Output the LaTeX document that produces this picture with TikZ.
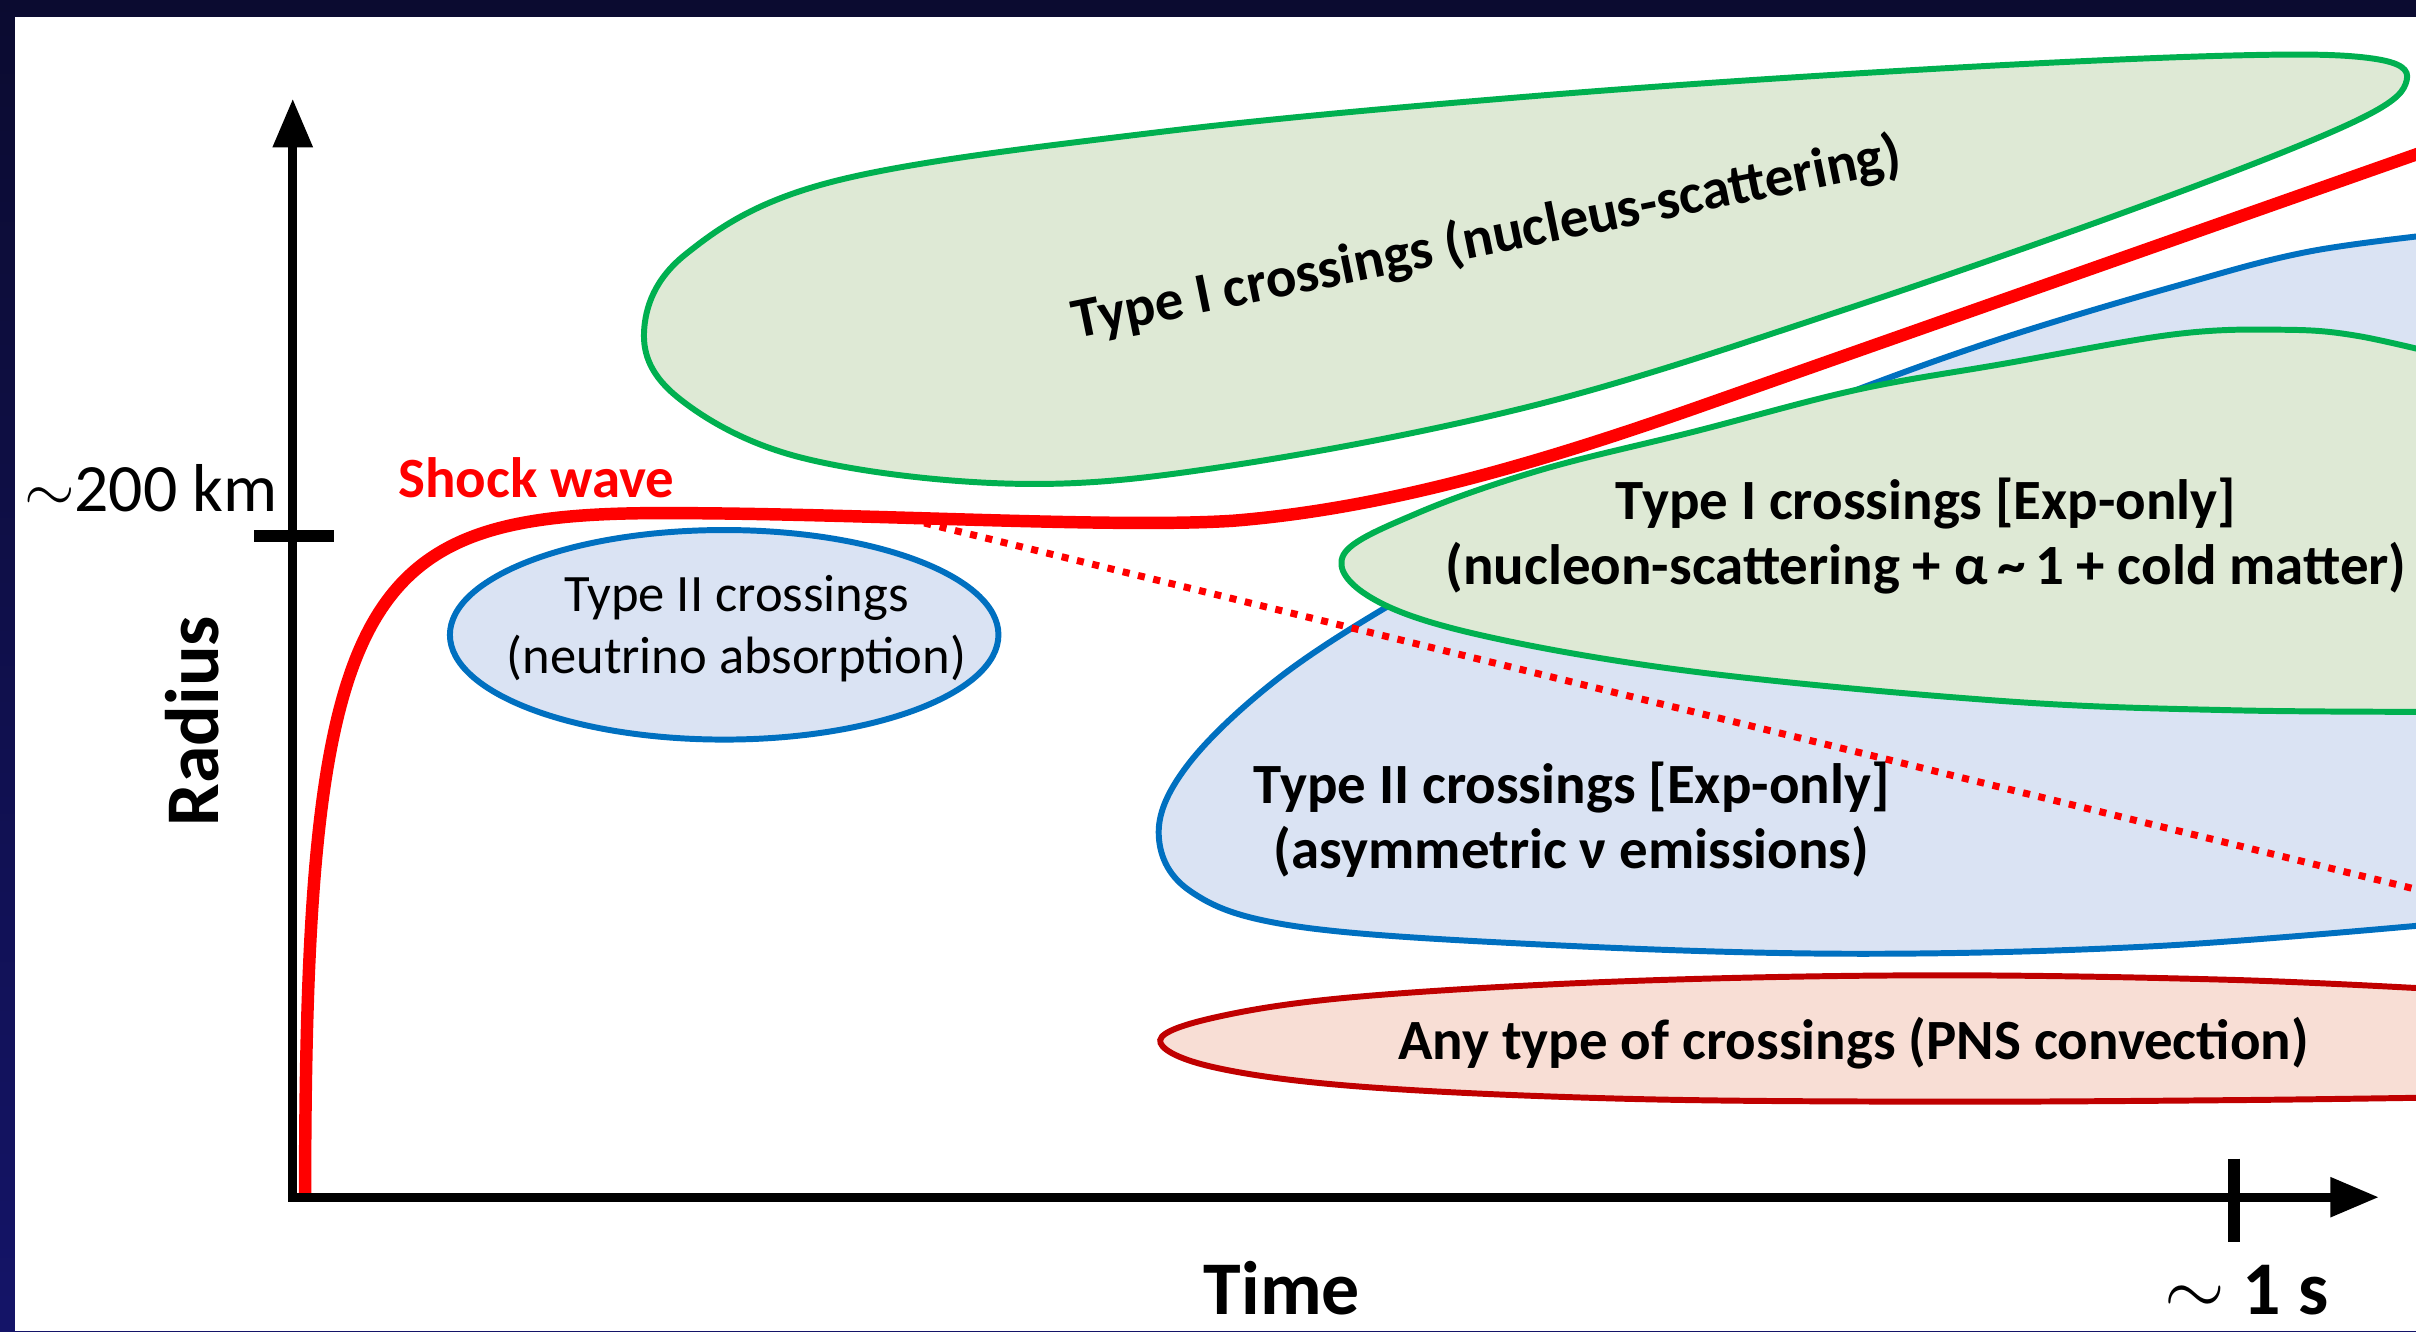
\documentclass[tikz,border=0pt]{standalone}
\usepackage{fontspec}
\setmainfont{Carlito}
\usetikzlibrary{arrows.meta}
\definecolor{bgtop}{HTML}{0B0B30}
\definecolor{bgbot}{HTML}{141468}
\definecolor{grline}{HTML}{00B050}
\definecolor{grfill}{HTML}{DEE9D5}
\definecolor{blline}{HTML}{0070C0}
\definecolor{blfill}{HTML}{DAE3F3}
\definecolor{pkline}{HTML}{C00000}
\definecolor{pkfill}{HTML}{F8DED5}
\definecolor{shock}{HTML}{FF0000}
\tikzset{
  region/.style={line width=1.1pt},
  greenreg/.style={region, draw=grline, fill=grfill},
  bluereg/.style={region, draw=blline, fill=blfill},
  pinkreg/.style={region, draw=pkline, fill=pkfill},
  axis/.style={line width=1.7pt, {Triangle[length=9pt,width=7pt]}-{Triangle[length=9pt,width=7pt]}},
  tick/.style={line width=2.2pt},
  lab/.style={font=\fontsize{10.5}{12}\selectfont\bfseries, align=center},
  big/.style={font=\fontsize{14}{16}\selectfont\bfseries, anchor=base, inner sep=0pt},
}
\begin{document}
\begin{tikzpicture}[x=0.01cm, y=-0.01cm]
  \useasboundingbox (0,0) rectangle (1568,864);
  \shade[top color=bgtop, bottom color=bgbot] (0,0) rectangle (1568,864);
  \fill[white] (10,11) rectangle (1568,864);

  \begin{scope}
    \clip (10,11) rectangle (1568,864);
    % regions
    \draw[greenreg] plot[smooth cycle, tension=0.6] coordinates {(418,215) (445,165) (540,118) (750,86) (1000,62) (1250,45) (1450,36) (1540,38) (1562,52) (1530,78) (1400,130) (1200,200) (1000,262) (800,302) (660,314) (520,297) (440,258)};
    \draw[bluereg] plot[smooth, tension=0.6] coordinates {(1600,150) (1500,163) (1411,186) (1301,219) (1205,253) (1100,295) (1000,340) (910,388) (830,440) (772,495) (752,540) (772,578) (840,601) (1000,613) (1200,619) (1400,614) (1600,598)} -- cycle;
    \draw[greenreg] plot[smooth, tension=0.6] coordinates {(1600,234) (1530,218) (1480,214) (1411,217) (1301,236) (1205,253) (1100,280) (1000,305) (920,333) (872,360) (890,388) (960,412) (1100,436) (1300,455) (1450,461) (1600,462)} -- cycle;
    \draw[pinkreg] plot[smooth, tension=0.6] coordinates {(1600,643) (1450,636) (1250,633) (1050,637) (880,647) (790,660) (753,675) (785,692) (880,705) (1050,713) (1250,715) (1450,714) (1600,712)} -- cycle;
    \draw[bluereg] (470,412) ellipse [x radius=178, y radius=68];
    % shock wave
    \draw[shock, line width=1.3pt, dash pattern=on 1.3pt off 1.6pt] (590,337) -- (1600,585);
    \draw[shock, line width=2.3pt] (198,777) .. controls (198,380) and (235,333) .. (430,333)
      .. controls (560,333) and (720,343) .. (800,338)
      .. controls (900,330) and (1000,300) .. (1100,265) -- (1600,89);
  \end{scope}

  % axes
  \coordinate (O) at (190,777);
  \coordinate (ytop) at (190,64);
  \coordinate (xend) at (1544,777);
  \draw[axis] (ytop) -- (O) -- (xend);
  \draw[tick] (165,348) -- (217,348);
  \draw[tick] (1450,752) -- (1450,806);

  \node[anchor=east, inner sep=0pt, font=\fontsize{12.5}{14}\selectfont] (rmax) at (181,317) {$\sim$200 km};
  \node[lab, text=shock] (shocklab) at (348,310) {Shock wave};
  \node[big, anchor=center, rotate=90] (radius) at (125,468) {Radius};
  \node[big] (time) at (832,853) {Time};
  \node[big] (tmax) at (1458,853) {$\sim$ 1 s};

  \node[lab, rotate=11.5] (t1nuc) at (965,155) {Type I crossings (nucleus-scattering)};
  \node[lab] (t1exp) at (1250,348) {Type I crossings [Exp-only]\\(nucleon-scattering + α\,\textasciitilde\,1 + cold matter)};
  \node[lab] (t2exp) at (1020,532) {Type II crossings [Exp-only]\\(asymmetric ν emissions)};
  \node[lab, font=\fontsize{9.7}{11.5}\selectfont] (t2abs) at (478,408) {Type II crossings\\(neutrino absorption)};
  \node[lab] (anytype) at (1203,677) {Any type of crossings (PNS convection)};
\end{tikzpicture}
\end{document}
